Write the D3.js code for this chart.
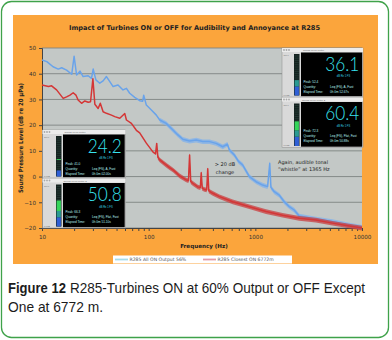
<!DOCTYPE html>
<html>
<head>
<meta charset="utf-8">
<script src="https://cdn.jsdelivr.net/npm/d3@7"></script>
<style>
  body { margin: 0; background: #fff; }
  svg { display: block; }
</style>
</head>
<body>
<svg width="392" height="340"></svg>
<script>
// spectra: [frequency Hz, dB]
var blueSpectrum = [[10,45.3],[11.1,44.7],[12.7,42.7],[14.2,41.8],[15.3,42.3],[17,41.4],[19,39.8],[20,46.8],[21.1,39.5],
  [22.7,41],[24.3,38.9],[27.1,39.2],[29.1,38.2],[30.2,41.8],[32,37.6],[34.8,36.3],[37.4,37.2],[40.2,38.9],[43.2,36.9],
  [46.4,35],[51.6,35.6],[57.5,33.7],[61.9,34.3],[66.4,32.4],[74,30.8],[82.4,29.5],[87.9,29.3],[89.8,31.6],[95.1,27.8],
  [106,25.9],[118,23.9],[127,22],[146,20.7],[169,18.1],[188,16.2],[209,14.5],[242,13.8],[279,14.2],[322,13.6],[372,13.6],
  [429,12.9],[495,11.6],[547,12.6],[572,10.3],[636,8.4],[698,5.8],[761,4.5],[879,0],[1016,-2],[1170,-3.3],[1303,-3.9],
  [1365,5.2],[1400,-4.2],[1506,-5.9],[1676,-7.2],[1866,-9.8],[2080,-11.7],[2313,-13],[2578,-15.3],[3690,-16.5],
  [5275,-17.5],[7566,-18.8],[10000,-19.7]];
var redSpectrum = [[10,35.6],[11.5,35],[12.3,35.3],[13.7,33.7],[15.8,30.4],[17,31],[18.3,31.7],[19.6,32.6],[20.8,31.7],
  [21.8,29.8],[23.5,28.5],[25.2,29.4],[27.1,28.9],[28.5,29.1],[30,38],[31.3,28.1],[33.6,26.5],[35.2,28.5],[37.4,25.2],
  [40.2,24.6],[44.8,23.9],[48.1,23.3],[53.6,22.7],[59.7,24.5],[61.9,22],[68.9,20.7],[76.7,18],[82.4,17],[95.1,13],
  [110,9.5],[116,8.8],[119,12.9],[122,7.5],[127,6.5],[146,4.5],[157,3.5],[169,2.6],[195,0.3],[225,-1.3],[236,-1.6],
  [242,8.4],[248,-2],[259,-2.6],[289,-4],[305,-4.3],[311,1.5],[318,-4.6],[334,-5],[350,-5.2],[358,3],[366,-5.6],
  [399,-6.5],[461,-7.8],[614,-9.8],[879,-11.7],[1259,-13.6],[1800,-15],[2578,-16.2],[3690,-16.9],[5275,-18.1],
  [7566,-19.2],[10000,-20]];

var seriesNames = ["R285 All ON Output 56%", "R285 Closest ON 6772m"];
var yTicks = [50, 40, 30, 20, 10, 0, -10, -20];
var xTickLabels = [10, 100, 1000, 10000];

var meterTitles = ["Sound Level Meter", "Sound Level Meter 2", "Sound Level Meter", "Sound Level Meter 2"];
var meterValues = ["36.1", "60.4", "24.2", "50.8"];
var meterPeaks = ["52.4", "72.3", "41.0", "66.3"];
var meterQuantity = ["Leq (FS), A, Fast", "Leq (FS), Flat, Fast", "Leq (FS), A, Fast", "Leq (FS), Flat, Fast"];
var meterElapsed = ["0h 0m 52.67s", "0h 0m 50.88s", "0h 0m 02.00s", "0h 0m 51.10s"];

var svg = d3.select("svg");

// card + orange panel
svg.append("rect").attr("x", 1.5).attr("y", 1.5).attr("width", 387).attr("height", 336)
  .attr("rx", 10).attr("fill", "#fff").attr("stroke", "#3fa24a").attr("stroke-width", 1.3);
svg.append("rect").attr("x", 13).attr("y", 15).attr("width", 365).attr("height", 249).attr("fill", "#fba53c");

var x = d3.scaleLog().domain([10, 10000]).range([42, 362]);
var y = d3.scaleLinear().domain([-20, 50]).range([228, 48]);

svg.append("rect").attr("x", 42).attr("y", 48).attr("width", 320).attr("height", 180).attr("fill", "#c3c8c6");

svg.append("g").selectAll("line").data(yTicks).enter().append("line")
  .attr("x1", 42).attr("x2", 362)
  .attr("y1", function(d) { return y(d); }).attr("y2", function(d) { return y(d); })
  .attr("stroke", "#7f8482").attr("stroke-width", 0.9);

var minor = [];
[10, 100, 1000].forEach(function(dec) { for (var k = 1; k < 10; k++) minor.push(dec * k); });
minor.push(10000);

var xAxis = svg.append("g").attr("transform", "translate(0,228)")
  .call(d3.axisBottom(x).tickValues(minor).tickSize(3).tickPadding(4)
    .tickFormat(function(d) { return xTickLabels.indexOf(d) >= 0 ? d : ""; }));
var yAxis = svg.append("g").attr("transform", "translate(42,0)")
  .call(d3.axisLeft(y).tickValues(yTicks).tickSize(3).tickPadding(3));
[xAxis, yAxis].forEach(function(a) {
  a.select(".domain").attr("stroke", "#444");
  a.selectAll(".tick line").attr("stroke", "#444");
  a.selectAll("text").attr("font-family", "DejaVu Sans, Verdana, sans-serif").attr("font-size", 5.6).attr("fill", "#333");
});

var line = d3.line().x(function(d) { return x(d[0]); }).y(function(d) { return y(d[1]); });
// the FFT noise shows as a band around the line above ~120 Hz
var band = d3.area().x(function(d) { return x(d[0]); })
  .y0(function(d) { return y(d[1]) + 2.4; }).y1(function(d) { return y(d[1]) - 2.2; });
function noisy(d) { return d[0] >= 120; }

function drawSeries(data, col, bandCol) {
  svg.append("path").datum(data.filter(noisy)).attr("d", band)
    .attr("fill", bandCol).attr("opacity", 0.75);
  svg.append("path").datum(data).attr("d", line)
    .attr("fill", "none").attr("stroke", col).attr("stroke-width", 1.5).attr("stroke-linejoin", "round");
}
drawSeries(blueSpectrum, "#69a3ea", "#80b2ec");
drawSeries(redSpectrum, "#d43636", "#c94040");

// title and axis titles
svg.append("text").attr("x", 69).attr("y", 30).attr("textLength", 251).attr("lengthAdjust", "spacingAndGlyphs")
  .attr("font-family", "DejaVu Sans, Verdana, sans-serif").attr("font-weight", "bold").attr("font-size", 6.6)
  .attr("fill", "#222").text("Impact of Turbines ON or OFF for Audibility and Annoyance at R285");
svg.append("text").attr("transform", "translate(23,138) rotate(-90)").attr("text-anchor", "middle")
  .attr("textLength", 110).attr("lengthAdjust", "spacingAndGlyphs")
  .attr("font-family", "DejaVu Sans, Verdana, sans-serif").attr("font-weight", "bold").attr("font-size", 6.2)
  .attr("fill", "#222").text("Sound Pressure Level (dB re 20 \u00b5Pa)");
svg.append("text").attr("x", 204).attr("y", 248).attr("text-anchor", "middle")
  .attr("font-family", "DejaVu Sans, Verdana, sans-serif").attr("font-weight", "bold").attr("font-size", 5.6)
  .attr("fill", "#222").text("Frequency (Hz)");

// annotations
var ann = svg.append("g").attr("font-family", "DejaVu Sans, Verdana, sans-serif").attr("font-size", 5).attr("fill", "#222");
ann.append("text").attr("x", 225).attr("y", 166).attr("text-anchor", "middle").text("> 20 dB");
ann.append("text").attr("x", 225).attr("y", 174).attr("text-anchor", "middle").text("change");
ann.append("text").attr("x", 278).attr("y", 163.5).text("Again, audible tonal");
ann.append("text").attr("x", 278).attr("y", 171).text("\u201cwhistle\u201d at 1365 Hz");

// sound level meter screenshots
var meterBoxes = [
  {x: 282, y: 48, w: 81, h: 49, lp: 19, lit: 0.39, green: false},
  {x: 282, y: 97.5, w: 81, h: 50, lp: 19, lit: 0.58, green: true},
  {x: 42.5, y: 130, w: 83, h: 48, lp: 20.5, lit: 0.15, green: false, peak: 0.43},
  {x: 42.5, y: 178.5, w: 83, h: 49.5, lp: 20.5, lit: 0.62, green: true}
];
meterBoxes.forEach(function(b, i) {
  var m = svg.append("g").attr("transform", "translate(" + b.x + "," + b.y + ")")
    .attr("font-family", "Liberation Sans, Arial, sans-serif");
  m.append("rect").attr("width", b.w).attr("height", b.h).attr("fill", "#d9d9d9")
    .attr("stroke", "#8c8c8c").attr("stroke-width", 0.5);
  m.append("rect").attr("width", b.w).attr("height", 4).attr("fill", "#ececec");
  [2, 4.5, 7].forEach(function(cx) {
    m.append("circle").attr("cx", cx).attr("cy", 2).attr("r", 0.9).attr("fill", "#a8a8a8");
  });
  m.append("text").attr("x", b.w / 2 - 9).attr("y", 3.1).attr("text-anchor", "middle")
    .attr("font-size", 2.5).attr("fill", "#666").text(meterTitles[i]);

  // level bar
  var bx = b.lp - 7, by = 6, bh = b.h - 7.5;
  m.append("rect").attr("x", bx).attr("y", by).attr("width", 5.5).attr("height", bh).attr("fill", "#152220");
  d3.range(by + 2, by + bh, 2.2).forEach(function(yy) {
    m.append("line").attr("x1", bx + 0.6).attr("x2", bx + 4.9).attr("y1", yy).attr("y2", yy)
      .attr("stroke", "#2f4a42").attr("stroke-width", 0.5);
  });
  var litH = bh * b.lit, bottom = by + bh;
  var blueH = Math.min(litH, bh * 0.22);
  m.append("rect").attr("x", bx + 0.6).attr("y", bottom - blueH).attr("width", 4.3).attr("height", blueH).attr("fill", "#2f5fd6");
  if (litH > blueH) {
    var tealH = Math.min(litH - blueH, bh * 0.15);
    m.append("rect").attr("x", bx + 0.6).attr("y", bottom - blueH - tealH).attr("width", 4.3).attr("height", tealH).attr("fill", "#2a9a92");
    if (b.green && litH > blueH + tealH) {
      m.append("rect").attr("x", bx + 0.6).attr("y", bottom - litH).attr("width", 4.3)
        .attr("height", litH - blueH - tealH).attr("fill", "#35d65a");
    }
  }
  if (b.peak) {
    m.append("rect").attr("x", bx + 0.6).attr("y", bottom - bh * b.peak).attr("width", 4.3).attr("height", 0.9).attr("fill", "#35d65a");
  }
  m.append("text").attr("x", 1.5).attr("y", by + 2).attr("font-size", 2).attr("fill", "#666").text("100.0");
  m.append("text").attr("x", 1.5).attr("y", bottom).attr("font-size", 2).attr("fill", "#666").text("0.0 dB");

  // display
  var dx = b.lp, dy = 4.5, dw = b.w - b.lp - 0.8, dh = b.h - 5.3;
  m.append("rect").attr("x", dx).attr("y", dy).attr("width", dw).attr("height", dh).attr("fill", "#000");
  m.append("text").attr("x", dx + dw - 3).attr("y", dy + 18).attr("text-anchor", "end")
    .attr("font-family", "Lato, Roboto, sans-serif").attr("font-weight", 300)
    .attr("font-size", 20).attr("fill", "#38e4f0")
    .attr("textLength", 34).attr("lengthAdjust", "spacingAndGlyphs").text(meterValues[i]);
  m.append("text").attr("x", dx + dw - 12).attr("y", dy + 24.5).attr("text-anchor", "end")
    .attr("font-size", 2.6).attr("fill", "#38d8e4").text("dB Re 1 FS");
  var small = [["Peak:   " + meterPeaks[i], ""], ["Quantity:", meterQuantity[i]], ["Elapsed Time:", meterElapsed[i]]];
  small.forEach(function(r, k) {
    m.append("text").attr("x", dx + 2.5).attr("y", dy + 30 + k * 5.1).attr("font-size", 3.1).attr("fill", "#b8f2f2").text(r[0]);
    m.append("text").attr("x", dx + 29).attr("y", dy + 30 + k * 5.1).attr("font-size", 3.1).attr("fill", "#b8f2f2").text(r[1]);
  });
});

// legend
var lg = svg.append("g");
lg.append("rect").attr("x", 113).attr("y", 255.5).attr("width", 179).attr("height", 8).attr("fill", "#fff");
var legendCols = ["#a6dcea", "#e59aa2"];
var legendX = [115, 203];
seriesNames.forEach(function(n, i) {
  lg.append("line").attr("x1", legendX[i]).attr("x2", legendX[i] + 13).attr("y1", 259.5).attr("y2", 259.5)
    .attr("stroke", legendCols[i]).attr("stroke-width", 1.8);
  lg.append("text").attr("x", legendX[i] + 14.5).attr("y", 261.4)
    .attr("font-family", "DejaVu Sans, Verdana, sans-serif").attr("font-size", 4.6).attr("fill", "#555").text(n);
});

// caption (narrowed horizontally to the reference's condensed face)
var sx = 0.9;
var cap = svg.append("g").attr("font-family", "Liberation Sans, Arial, sans-serif").attr("font-size", 15).attr("fill", "#1c1c1c");
var l1 = cap.append("g").attr("transform", "translate(8,293) scale(" + sx + ",1)");
l1.append("text").attr("x", 0).attr("y", 0).attr("font-weight", "bold")
  .attr("textLength", 58 / sx).attr("lengthAdjust", "spacingAndGlyphs").text("Figure 12");
l1.append("text").attr("x", 62 / sx).attr("y", 0)
  .attr("textLength", 295 / sx).attr("lengthAdjust", "spacingAndGlyphs")
  .text("R285-Turbines ON at 60% Output or OFF Except");
cap.append("g").attr("transform", "translate(8,311.5) scale(" + sx + ",1)")
  .append("text").attr("textLength", 95 / sx).attr("lengthAdjust", "spacingAndGlyphs")
  .text("One at 6772 m.");
</script>
</body>
</html>
